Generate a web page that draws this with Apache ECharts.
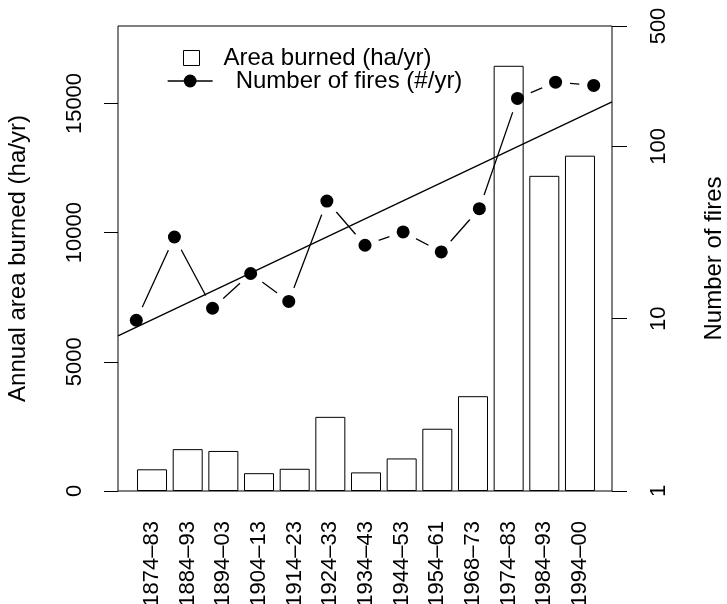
<!DOCTYPE html>
<html><head><meta charset="utf-8">
<script src="https://cdn.jsdelivr.net/npm/echarts@6/dist/echarts.min.js"></script>
<style>html,body{margin:0;padding:0;background:#fff}#c{width:727px;height:604px}</style>
</head><body><div id="c"></div>
<script>
// ---- data ----
const periods = ['1874–83','1884–93','1894–03','1904–13','1914–23','1924–33','1934–43','1944–53','1954–61','1968–73','1974–83','1984–93','1994–00'];
const areaBurned = [840, 1620, 1550, 690, 860, 2870, 720, 1260, 2410, 3670, 16460, 12200, 12980];
const numberOfFires = [9.8, 29.8, 11.5, 18.3, 12.6, 48.2, 26.7, 31.9, 24.4, 43.5, 190, 236, 226];
const areaTicks = [0, 5000, 10000, 15000];
const fireTicks = [1, 10, 100, 500];

// ---- derived ----
const periodIndex = periods.map((_, i) => i + 1);
const firePoints = periodIndex.map((x, i) => [x, numberOfFires[i]]);
// least squares fit of log10(fires) on period index
const logs = numberOfFires.map(v => Math.log10(v));
const mx = periodIndex.reduce((a, b) => a + b, 0) / periodIndex.length;
const my = logs.reduce((a, b) => a + b, 0) / logs.length;
let sxy = 0, sxx = 0;
periodIndex.forEach((x, i) => { sxy += (x - mx) * (logs[i] - my); sxx += (x - mx) * (x - mx); });
const slope = sxy / sxx, intercept = my - slope * mx;
const xMin = 0.52, xMax = 13.48;
const fitLine = [xMin, xMax].map(x => [x, Math.pow(10, intercept + slope * x)]);

const FONT = '"Liberation Sans", Arial, Helvetica, sans-serif';
const plain = v => String(Math.round(v));
const chart = echarts.init(document.getElementById('c'), null, {renderer: 'canvas'});
chart.setOption({
  animation: false,
  backgroundColor: '#fff',
  textStyle: {fontFamily: FONT, color: '#000'},
  grid: [
    {left: 118, right: 115, top: 26, bottom: 113, outerBoundsMode: 'none', containLabel: false,
     show: true, borderColor: '#000', borderWidth: 1, backgroundColor: 'transparent'},
    {left: 134.2, right: 129.2, top: 26, bottom: 113, outerBoundsMode: 'none', containLabel: false}
  ],
  legend: [
    {data: [{name: 'Area burned (ha/yr)', icon: 'rect'}], left: 183, top: 46, padding: 0, itemWidth: 16, itemHeight: 15,
     selectedMode: false, itemStyle: {color: 'transparent', borderColor: '#000', borderWidth: 1},
     textStyle: {fontSize: 24, color: '#000', fontFamily: FONT, padding: [0, 0, 0, 19]}},
    {data: ['Number of fires (#/yr)'], left: 167, top: 69, padding: 0, itemWidth: 45, itemHeight: 16,
     selectedMode: false, itemStyle: {color: '#000', borderWidth: 0, opacity: 1}, lineStyle: {color: '#000', width: 1.3},
     textStyle: {fontSize: 24, color: '#000', fontFamily: FONT, padding: [0, 0, 0, 18]}}
  ],
  xAxis: [
    {gridIndex: 0, type: 'value', min: xMin, max: xMax, show: false},
    {gridIndex: 1, type: 'category', data: periods, axisLine: {show: false}, axisTick: {show: false},
     axisLabel: {interval: 0, rotate: 90, align: 'right', verticalAlign: 'middle', margin: 30, fontSize: 22, color: '#000', fontFamily: FONT}}
  ],
  yAxis: [
    {gridIndex: 0, type: 'value', position: 'left', min: 0, max: 18000,
     axisLine: {show: false}, splitLine: {show: false},
     axisTick: {show: true, length: 14, lineStyle: {color: '#000', width: 1}, customValues: areaTicks},
     axisLabel: {customValues: areaTicks, formatter: plain, rotate: 90, align: 'center', verticalAlign: 'middle', margin: 43.5, fontSize: 22, color: '#000', fontFamily: FONT},
     name: 'Annual area burned (ha/yr)', nameLocation: 'middle', nameRotate: 90, nameGap: 99.5,
     nameTextStyle: {fontSize: 24, align: 'center', verticalAlign: 'middle', color: '#000', fontFamily: FONT}},
    {gridIndex: 0, type: 'log', logBase: 10, position: 'right', min: 1, max: 500,
     axisLine: {show: false}, splitLine: {show: false},
     axisTick: {show: true, length: 15, lineStyle: {color: '#000', width: 1}, customValues: fireTicks},
     axisLabel: {customValues: fireTicks, formatter: plain, rotate: 90, align: 'center', verticalAlign: 'middle', margin: 46.5, fontSize: 22, color: '#000', fontFamily: FONT},
     name: 'Number of fires', nameLocation: 'middle', nameRotate: 90, nameGap: 102,
     nameTextStyle: {fontSize: 24, align: 'center', verticalAlign: 'middle', color: '#000', fontFamily: FONT}},
    {gridIndex: 1, type: 'value', min: 0, max: 18000, show: false}
  ],
  series: [
    {name: 'Number of fires (#/yr)', type: 'line', xAxisIndex: 0, yAxisIndex: 1, data: firePoints,
     symbol: 'circle', showSymbol: false, lineStyle: {color: '#000', width: 1.3}, itemStyle: {color: '#000', opacity: 1}, z: 1, silent: true},
    {name: 'gap', type: 'scatter', xAxisIndex: 0, yAxisIndex: 1, data: firePoints,
     symbolSize: 29, itemStyle: {color: '#fff', opacity: 1}, z: 2, silent: true},
    {name: 'Area burned (ha/yr)', type: 'bar', xAxisIndex: 1, yAxisIndex: 2, data: areaBurned, barWidth: 30,
     itemStyle: {color: 'transparent', borderColor: '#000', borderWidth: 1}, z: 3, silent: true},
    {name: 'fit', type: 'line', xAxisIndex: 0, yAxisIndex: 1, data: fitLine, symbol: 'none',
     lineStyle: {color: '#000', width: 1.3}, z: 3, silent: true},
    {name: 'points', type: 'scatter', xAxisIndex: 0, yAxisIndex: 1, data: firePoints,
     symbolSize: 13, itemStyle: {color: '#000', opacity: 1}, z: 4, silent: true}
  ]
});
</script>
</body></html>
